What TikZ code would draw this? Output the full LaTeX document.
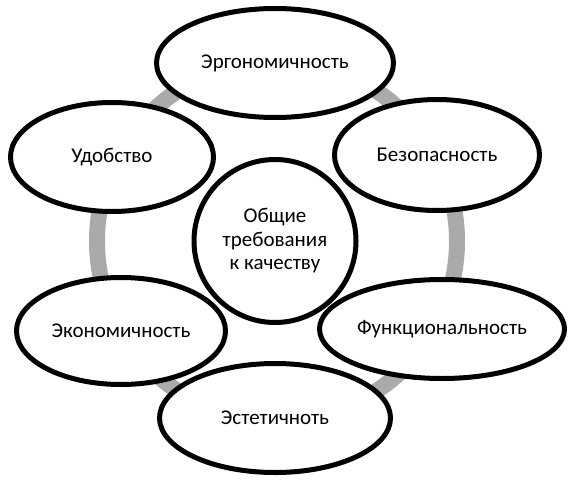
\documentclass[tikz,border=0pt]{standalone}
\usepackage{fontspec}
\setmainfont{Carlito}
\usetikzlibrary{shapes.geometric,shadows}
\definecolor{ringgray}{RGB}{170,170,170}

\begin{document}
\begin{tikzpicture}[x=1pt,y=-1pt, every node/.style={font=\fontsize{21}{23.5}\selectfont}, el/.style={ellipse,draw=black,line width=5pt,fill=white,inner sep=0pt,align=center,drop shadow={shadow xshift=1.5pt,shadow yshift=-2pt,opacity=0.25}}, ring/.style={draw=ringgray,line width=16pt}]
\useasboundingbox (0,0) rectangle (575,489);
\draw[ring] (277,241) circle[radius=180];
\node[el,minimum width=162pt,minimum height=163pt] (core) at (275,241) {Общие\\требования\\к качеству};
\node[el,minimum width=237pt,minimum height=109pt] (ergo) at (275,63) {Эргономичность};
\node[el,minimum width=205pt,minimum height=111pt] (bez) at (437,155) {Безопасность};
\node[el,minimum width=245pt,minimum height=99pt] (func) at (442,329) {Функциональность};
\node[el,minimum width=209pt,minimum height=107pt] (econ) at (121,331) {Экономичность};
\node[el,minimum width=231pt,minimum height=109pt] (est) at (275,418) {Эстетичноть};
\node[el,minimum width=203pt,minimum height=109pt] (udob) at (112,157) {Удобство};
\end{tikzpicture}
\end{document}
